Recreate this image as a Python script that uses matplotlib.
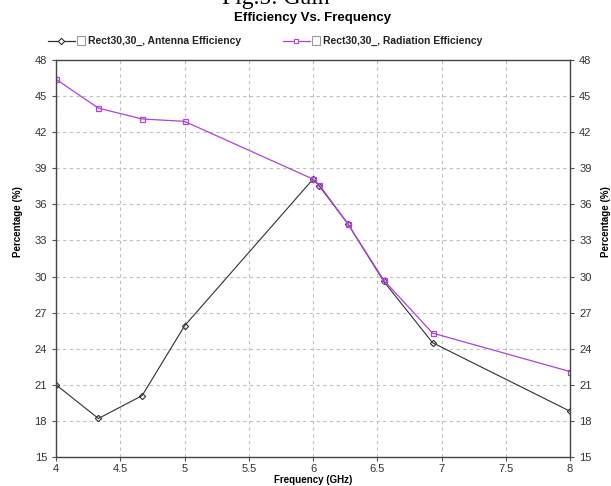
import matplotlib.pyplot as plt
from matplotlib.lines import Line2D
from matplotlib.patches import Rectangle

# Data
freq = [4.0, 4.33, 4.67, 5.0, 6.0, 6.05, 6.27, 6.55, 6.93, 8.0]
antenna_eff = [21.0, 18.2, 20.1, 25.9, 38.1, 37.5, 34.4, 29.6, 24.5, 18.8]
radiation_eff = [46.4, 44.0, 43.1, 42.9, 38.1, 37.6, 34.4, 29.7, 25.3, 22.1]
xticks = [4, 4.5, 5, 5.5, 6, 6.5, 7, 7.5, 8]
yticks = [15, 18, 21, 24, 27, 30, 33, 36, 39, 42, 45, 48]

plt.rcParams['font.family'] = ['Liberation Sans', 'DejaVu Sans']

fig = plt.figure(figsize=(6.11, 4.86), dpi=100)
ax = fig.add_axes([0.0917, 0.0597, 0.8413, 0.8168])

purple = '#b040e0'
dark = '#303030'

ax.plot(freq, antenna_eff, color=dark, lw=0.8, marker='D', ms=3.2,
        mfc='none', mec=dark, mew=0.8)
ax.plot(freq, radiation_eff, color=purple, lw=0.9, marker='s', ms=3.6,
        mfc='none', mec=purple, mew=0.9)

ax.set_xlim(4, 8)
ax.set_ylim(15, 48)
ax.set_xticks(xticks)
ax.set_xticklabels(['4', '4.5', '5', '5.5', '6', '6.5', '7', '7.5', '8'])
ax.set_yticks(yticks)
ax.grid(True, ls=(0, (3, 3)), color='#c0c0c0', lw=0.8)
ax.tick_params(axis='both', labelsize=8, labelcolor='#333333', length=3,
               color='#555555', direction='out')
ax.tick_params(axis='x', pad=2)
ax.tick_params(axis='y', right=True, labelright=True)
for side in ['top', 'right', 'left', 'bottom']:
    ax.spines[side].set_color('#444444')
    ax.spines[side].set_linewidth(1.0)

fig.text(0.5 * (56 + 570) / 611, 1 - 480 / 486, 'Frequency (GHz)', ha='center',
         va='center', fontsize=7, fontweight='bold')
fig.text(18 / 611, 0.545, 'Percentage (%)', rotation=90, ha='center',
         va='center', fontsize=7, fontweight='bold')
fig.text(606 / 611, 0.545, 'Percentage (%)', rotation=90, ha='center',
         va='center', fontsize=7, fontweight='bold')

# titles
fig.text(276 / 611, 1 - 4 / 486, 'Fig.5: Gain', ha='center', va='baseline',
         fontsize=17, family='Liberation Serif')
fig.text(313 / 611, 1 - 18 / 486, 'Efficiency Vs. Frequency', ha='center',
         va='center', fontsize=9.5, fontweight='bold')

# legend drawn by hand
ly = 1 - 41 / 486
for x0, col, mk, label in [(48, dark, 'D', 'Rect30,30_, Antenna Efficiency'),
                           (283, purple, 's', 'Rect30,30_, Radiation Efficiency')]:
    fig.add_artist(Line2D([x0 / 611, (x0 + 27) / 611], [ly, ly], color=col,
                          lw=0.9, transform=fig.transFigure))
    fig.add_artist(Line2D([(x0 + 13) / 611], [ly], color=col, marker=mk,
                          ms=3.2, mfc='white', mec=col, mew=0.8,
                          transform=fig.transFigure))
    fig.add_artist(Rectangle(((x0 + 29) / 611, ly - 4.5 / 486), 8 / 611,
                             9 / 486, fill=False, ec='#a09a90', lw=0.8,
                             transform=fig.transFigure))
    fig.text((x0 + 40) / 611, ly, label, ha='left', va='center',
             fontsize=7.5, fontweight='bold', color='#222222')

fig.savefig('out.png', dpi=100)
